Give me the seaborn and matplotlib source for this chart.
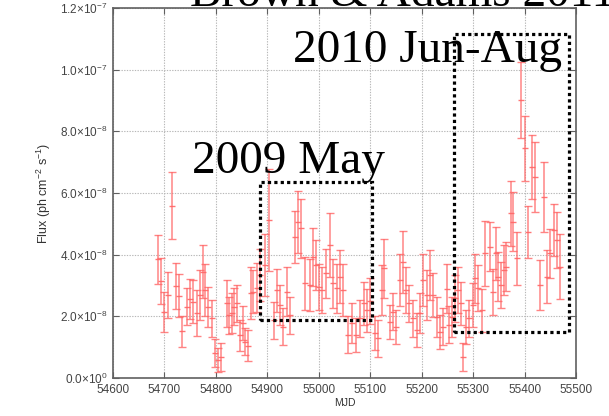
import matplotlib
matplotlib.use("Agg")
import matplotlib.pyplot as plt
from matplotlib.patches import Rectangle
from matplotlib.ticker import FuncFormatter
import seaborn as sns
import pandas as pd

# Weekly-binned gamma-ray light curve
mjd = [54687, 54693, 54700, 54707, 54715, 54722, 54729, 54735, 54743, 54750,
       54756, 54763, 54769, 54774, 54779, 54785, 54792, 54798, 54804, 54810,
       54821, 54826, 54831, 54836, 54842, 54847, 54852, 54857, 54862, 54868,
       54873, 54879, 54886, 54895, 54904, 54912, 54918, 54925, 54931, 54938,
       54945, 54954, 54959, 54965, 54973, 54982, 54988, 54995, 55001, 55006,
       55014, 55022, 55028, 55035, 55041, 55047, 55057, 55064, 55072, 55080,
       55087, 55093, 55100, 55109, 55115, 55122, 55127, 55139, 55144, 55150,
       55157, 55163, 55170, 55176, 55184, 55190, 55197, 55203, 55210, 55216,
       55223, 55229, 55236, 55242, 55249, 55253, 55258, 55265, 55271, 55277,
       55281, 55286, 55292, 55299, 55304, 55310, 55317, 55323, 55332, 55338,
       55345, 55349, 55354, 55360, 55364, 55373, 55378, 55385, 55393, 55400,
       55407, 55414, 55420, 55430, 55437, 55443, 55450, 55457, 55463, 55468]

# flux in units of 1e-8 ph cm^-2 s^-1
flux = [3.85, 3.15, 2.15, 2.70, 5.59, 2.98, 2.67, 1.52, 2.31, 2.55,
        2.48, 2.10, 2.69, 3.45, 2.85, 2.31, 1.94, 0.80, 0.58, 0.69,
        2.42, 2.04, 2.10, 2.31, 2.42, 1.39, 1.77, 1.18, 1.05, 2.75,
        2.80, 2.93, 3.34, 3.66, 5.12, 1.88, 2.85, 2.37, 1.66, 2.80,
        2.04, 4.58, 5.07, 4.85, 3.07, 3.02, 3.93, 3.66, 2.96, 2.85,
        3.40, 4.31, 3.07, 2.91, 3.29, 2.85, 1.40, 1.77, 1.39, 1.94,
        2.42, 2.20, 2.50, 1.45, 1.29, 2.85, 3.56, 1.83, 2.15, 1.66,
        3.18, 3.77, 2.85, 2.42, 1.94, 1.56, 2.10, 3.18, 2.69, 3.34,
        2.69, 1.99, 1.50, 1.66, 2.90, 1.72, 1.99, 2.58, 2.85, 2.42,
        0.69, 1.66, 1.94, 2.37, 3.23, 2.91, 2.20, 4.04, 4.26, 2.80,
        4.04, 3.29, 3.02, 3.50, 3.61, 5.34, 5.07, 3.88, 9.02, 7.45,
        4.74, 6.85, 6.53, 3.02, 5.88, 3.29, 4.04, 4.80, 4.48, 3.61]

flux_err = [0.80, 0.75, 0.65, 0.75, 1.08, 0.75, 0.70, 0.50, 0.60, 0.65,
            0.70, 0.75, 0.80, 0.85, 0.85, 0.65, 0.60, 0.45, 0.40, 0.45,
            0.75, 0.60, 0.65, 0.60, 0.60, 0.50, 0.55, 0.45, 0.50, 0.85,
            0.70, 0.80, 0.85, 1.00, 1.65, 0.60, 0.70, 0.65, 0.60, 0.80,
            0.60, 0.85, 1.00, 0.95, 0.85, 0.85, 0.95, 0.80, 0.75, 0.75,
            0.80, 1.05, 0.80, 0.80, 0.85, 0.85, 0.60, 0.65, 0.55, 0.60,
            0.70, 0.70, 0.75, 0.55, 0.60, 0.80, 0.95, 0.55, 0.60, 0.55,
            0.85, 1.00, 0.75, 0.60, 0.60, 0.55, 0.65, 0.85, 0.80, 0.80,
            0.70, 0.65, 0.55, 0.60, 0.80, 0.60, 0.65, 0.75, 0.75, 0.70,
            0.45, 0.55, 0.60, 0.70, 0.80, 0.75, 0.70, 1.05, 0.80, 0.75,
            0.85, 0.80, 0.75, 0.80, 0.80, 1.05, 0.95, 0.85, 1.24, 1.05,
            0.84, 1.03, 1.13, 0.81, 1.13, 0.85, 0.80, 0.84, 0.90, 1.05]

x_ticks = [54600, 54700, 54800, 54900, 55000, 55100, 55200, 55300, 55400, 55500]
y_ticks = [0, 2, 4, 6, 8, 10, 12]

df = pd.DataFrame({"MJD": mjd, "flux": flux, "err": flux_err})

sns.set_style("ticks")
plt.rcParams["font.family"] = ["Liberation Sans", "DejaVu Sans"]
plt.rcParams["mathtext.fontset"] = "custom"
plt.rcParams["mathtext.rm"] = "Liberation Sans"
plt.rcParams["mathtext.it"] = "Liberation Sans:italic"

fig = plt.figure(figsize=(6.09, 4.16), dpi=100)
ax = fig.add_axes([113 / 609, 1 - 378 / 416, (576 - 113) / 609, (378 - 8) / 416])

red = (1.0, 0.40, 0.40)
ax.errorbar(df["MJD"], df["flux"], yerr=df["err"], fmt="none",
            ecolor=red, elinewidth=1.1, capsize=2.6, capthick=1.0,
            alpha=0.8, zorder=3)
sns.scatterplot(data=df, x="MJD", y="flux", marker="_", s=22,
                color=red, linewidth=1.0, alpha=0.9, ax=ax, zorder=4,
                legend=False)

ax.set_xlim(54600, 55500)
ax.set_ylim(0, 12)
ax.set_xticks(x_ticks)
ax.set_yticks(y_ticks)


def sci_label(v, pos):
    value = v * 1e-8
    if value == 0:
        return r"$0.0{\times}10^{0}$"
    exp = 0
    m = value
    while abs(m) >= 10:
        m /= 10
        exp += 1
    while abs(m) < 1:
        m *= 10
        exp -= 1
    return r"$%.1f{\times}10^{%d}$" % (m, exp)


ax.yaxis.set_major_formatter(FuncFormatter(sci_label))

ax.grid(True, which="major", color="#b8b8b8", linestyle=(0, (1.2, 1.2)),
        linewidth=0.8, zorder=0)
for s in ax.spines.values():
    s.set_color("#606060")
    s.set_linewidth(1.2)
ax.tick_params(direction="in", length=4, width=0.8, color="#606060",
               top=True, right=True, labelsize=8.5, labelcolor="#444444",
               pad=4)

ax.set_xlabel("MJD", fontsize=7.5, color="#333333", labelpad=2)
ax.set_ylabel(r"Flux (ph cm$^{-2}$ s$^{-1}$)", fontsize=9, color="#333333",
              labelpad=5)

# Highlighted flaring episodes
box_style = dict(fill=False, edgecolor="black", linewidth=2.3,
                 linestyle=(0, (1, 1)), zorder=5)
ax.add_patch(Rectangle((54886, 1.88), 55103 - 54886, 6.36 - 1.88, **box_style))
ax.add_patch(Rectangle((55263, 1.48), 55487 - 55263, 11.15 - 1.48, **box_style))

serif = ["Liberation Serif", "DejaVu Serif"]
ax.text(54753, 6.65, "2009 May", fontsize=34, family=serif, color="black",
        va="baseline", ha="left", zorder=6)
ax.text(54950, 10.25, "2010 Jun-Aug", fontsize=34, family=serif,
        color="black", va="baseline", ha="left", zorder=6)
fig.text(190 / 609, 1 - 6 / 416, "Brown & Adams 2011", fontsize=34,
         family=serif, color="black", va="baseline", ha="left")

fig.savefig("out.png", dpi=100)
